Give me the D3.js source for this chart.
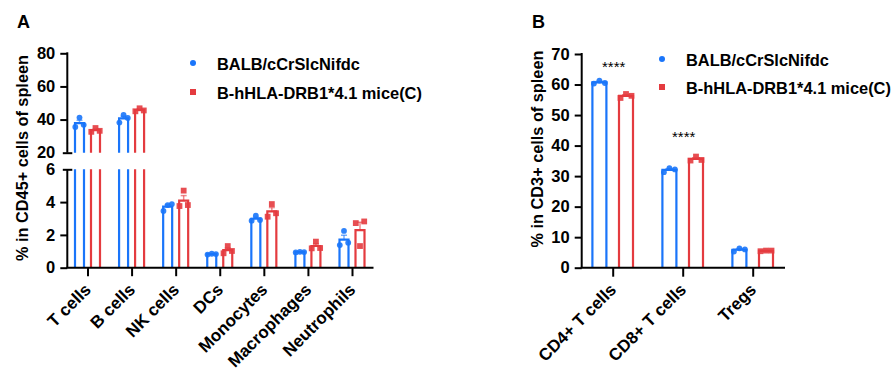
<!DOCTYPE html>
<html>
<head>
<meta charset="utf-8">
<script src="https://cdn.jsdelivr.net/npm/d3@7"></script>
<style>
  html, body { margin: 0; padding: 0; background: #fff; }
  svg { display: block; font-family: Arial, "Liberation Sans", sans-serif; }
</style>
</head>
<body>
<svg id="chart" width="896" height="377"></svg>
<script>
// ---------------- DATA ----------------
const seriesNames = ["BALB/cCrSlcNifdc", "B-hHLA-DRB1*4.1 mice(C)"];

// Panel A: % in CD45+ cells of spleen (3 mice per group)
const categoriesA = ["T cells", "B cells", "NK cells", "DCs", "Monocytes", "Macrophages", "Neutrophils"];
const balbA = [
  [41.2, 35.5, 36.8],
  [42.8, 38.2, 41.0],
  [3.82, 3.46, 3.88],
  [0.85, 0.80, 0.83],
  [3.17, 2.87, 2.91],
  [0.97, 0.93, 0.95],
  [2.24, 1.38, 1.52]
];
const hlaA = [
  [34.9, 32.6, 33.2],
  [46.8, 45.0, 45.5],
  [4.70, 3.76, 3.82],
  [1.32, 0.88, 1.02],
  [3.88, 3.11, 3.32],
  [1.59, 1.18, 1.20],
  [1.32, 2.72, 2.82]
];
const ticksTopA = [20, 40, 60, 80];
const ticksBottomA = [0, 2, 4, 6];

// Panel B: % in CD3+ cells of spleen
const categoriesB = ["CD4+ T cells", "CD8+ T cells", "Tregs"];
const balbB = [
  [61.3, 60.3, 60.5],
  [32.6, 31.3, 32.2],
  [6.35, 5.30, 6.00]
];
const hlaB = [
  [56.9, 55.6, 56.3],
  [36.4, 35.1, 35.3],
  [5.60, 5.40, 5.60]
];
const ticksB = [0, 10, 20, 30, 40, 50, 60, 70];
const significanceB = ["****", "****", ""];

// ---------------- STYLE ----------------
const BLUE = "#1a75fa";
const RED = "#e43b3f";
const FONT = 'Arial, "Liberation Sans", sans-serif';

const svg = d3.select("#chart");
const mean = a => d3.mean(a);
const sem = a => d3.deviation(a) / Math.sqrt(a.length);
const fmtInt = d3.format("d");

function drawPoints(g, x, ys, color, shape, offs) {
  ys.forEach((yv, i) => {
    const px = x + offs[i % offs.length];
    if (shape === "circle") {
      g.append("circle").attr("cx", px).attr("cy", yv).attr("r", 2.9)
        .attr("fill", color).attr("fill-opacity", 0.9);
    } else {
      g.append("rect").attr("x", px - 2.9).attr("y", yv - 2.9)
        .attr("width", 5.8).attr("height", 5.8)
        .attr("fill", color).attr("fill-opacity", 0.9);
    }
  });
}

function errorBar(g, x, yMean, ySem, color, cap) {
  g.append("line").attr("x1", x).attr("x2", x).attr("y1", yMean).attr("y2", ySem)
    .attr("stroke", color).attr("stroke-width", 1.5).attr("stroke-opacity", 0.6);
  g.append("line").attr("x1", x - cap).attr("x2", x + cap).attr("y1", ySem).attr("y2", ySem)
    .attr("stroke", color).attr("stroke-width", 1.5).attr("stroke-opacity", 0.6);
}

function legend(g, x, y, gap) {
  seriesNames.forEach((name, i) => {
    const cy = y + i * gap;
    if (i === 0) {
      g.append("circle").attr("cx", x).attr("cy", cy).attr("r", 3).attr("fill", BLUE);
    } else {
      g.append("rect").attr("x", x - 3).attr("y", cy - 3).attr("width", 6).attr("height", 6).attr("fill", RED);
    }
    g.append("text").attr("x", x + 24).attr("y", cy + 6.5)
      .attr("font-size", 16.4).attr("font-weight", "bold").attr("fill", "#000")
      .text(name);
  });
}

function styleAxis(g, size) {
  g.select(".domain").remove();
  g.selectAll(".tick line").attr("stroke", "#000").attr("stroke-width", 2);
  g.selectAll(".tick text").attr("font-size", size || 16).attr("font-weight", "bold")
    .attr("font-family", FONT).attr("fill", "#000");
}

// ================= PANEL A =================
{
  const g = svg.append("g");
  const axisX = 67.3, baseY = 267.7;
  const yBot = d3.scaleLinear().domain([0, 6]).range([baseY, 169.3]);
  const yTop = d3.scaleLinear().domain([20, 80]).range([152.7, 53.3]);
  const x = d3.scalePoint().domain(categoriesA).range([87.5, 352]);
  const off = 8, half = 4.5;

  [[balbA, BLUE, -off, "circle"], [hlaA, RED, off, "square"]].forEach(([data, color, dx, shape]) => {
    categoriesA.forEach((c, i) => {
      const cx = x(c) + dx;
      const vals = data[i];
      const m = mean(vals), s = sem(vals);
      if (m <= 6) {
        g.append("path")
          .attr("d", `M${cx - half},${yBot(0)}V${yBot(m)}H${cx + half}V${yBot(0)}`)
          .attr("fill", "none").attr("stroke", color).attr("stroke-width", 2.2);
        errorBar(g, cx, yBot(m), yBot(m + s), color, 3);
        drawPoints(g, cx, vals.map(v => yBot(v)), color, shape, [0, -4.2, 4.2]);
      } else {
        g.append("path")
          .attr("d", `M${cx - half},${yBot(0)}V${yBot(6)}M${cx + half},${yBot(0)}V${yBot(6)}`)
          .attr("fill", "none").attr("stroke", color).attr("stroke-width", 2.2);
        g.append("path")
          .attr("d", `M${cx - half},${yTop(20)}V${yTop(m)}H${cx + half}V${yTop(20)}`)
          .attr("fill", "none").attr("stroke", color).attr("stroke-width", 2.2);
        errorBar(g, cx, yTop(m), yTop(m + s), color, 3);
        drawPoints(g, cx, vals.map(v => yTop(v)), color, shape, [0, -4.2, 4.2]);
      }
    });
  });

  // y axes (broken)
  const gyT = g.append("g").attr("transform", `translate(${axisX},0)`)
    .call(d3.axisLeft(yTop).tickValues(ticksTopA).tickFormat(fmtInt).tickSize(7).tickPadding(5));
  const gyB = g.append("g").attr("transform", `translate(${axisX},0)`)
    .call(d3.axisLeft(yBot).tickValues(ticksBottomA).tickFormat(fmtInt).tickSize(7).tickPadding(5));
  styleAxis(gyT, 16.5); styleAxis(gyB, 16.5);
  gyT.selectAll(".tick").filter(d => d === 20).select("line").attr("x1", 5).attr("x2", -4.5);
  gyB.selectAll(".tick").filter(d => d === 6).select("line").attr("x1", 5).attr("x2", -4.5);
  g.append("line").attr("x1", axisX).attr("x2", axisX).attr("y1", yTop(80) - 1).attr("y2", yTop(20))
    .attr("stroke", "#000").attr("stroke-width", 2);
  g.append("line").attr("x1", axisX).attr("x2", axisX).attr("y1", yBot(6)).attr("y2", baseY)
    .attr("stroke", "#000").attr("stroke-width", 2);

  // x axis
  const gx = g.append("g").attr("transform", `translate(0,${baseY})`)
    .call(d3.axisBottom(x).tickSize(8.5).tickPadding(4));
  styleAxis(gx, 17);
  g.append("line").attr("x1", axisX - 1).attr("x2", 373.5).attr("y1", baseY).attr("y2", baseY)
    .attr("stroke", "#000").attr("stroke-width", 2);
  gx.selectAll(".tick text")
    .attr("text-anchor", "end").attr("dy", null).attr("y", null)
    .attr("transform", "translate(4,23) rotate(-45)");

  g.append("text").attr("transform", "translate(28,158) rotate(-90)")
    .attr("text-anchor", "middle").attr("font-size", 16.3).attr("font-weight", "bold")
    .text("% in CD45+ cells of spleen");

  g.append("text").attr("x", 17).attr("y", 28).attr("font-size", 18).attr("font-weight", "bold").text("A");

  legend(g, 193, 63, 29);
}

// ================= PANEL B =================
{
  const g = svg.append("g");
  const axisX = 581.7, baseY = 267.7;
  const y = d3.scaleLinear().domain([0, 70]).range([baseY, 54]);
  const x = d3.scalePoint().domain(categoriesB).range([612.7, 752.7]);
  const off = 13.3, half = 7;

  [[balbB, BLUE, -off, "circle"], [hlaB, RED, off, "square"]].forEach(([data, color, dx, shape]) => {
    categoriesB.forEach((c, i) => {
      const cx = x(c) + dx;
      const vals = data[i];
      const m = mean(vals), s = sem(vals);
      g.append("path")
        .attr("d", `M${cx - half},${y(0)}V${y(m)}H${cx + half}V${y(0)}`)
        .attr("fill", "none").attr("stroke", color).attr("stroke-width", 2.2);
      errorBar(g, cx, y(m), y(m + s), color, 4);
      drawPoints(g, cx, vals.map(v => y(v)), color, shape, [0, -5.5, 5.5]);
    });
  });

  categoriesB.forEach((c, i) => {
    if (!significanceB[i]) return;
    const top = Math.max(mean(balbB[i]), mean(hlaB[i]));
    g.append("text").attr("x", x(c) + 1).attr("y", y(top) + (i === 0 ? -10 : -17))
      .attr("text-anchor", "middle").attr("font-size", 15).attr("fill", "#000")
      .text(significanceB[i]);
  });

  const gy = g.append("g").attr("transform", `translate(${axisX},0)`)
    .call(d3.axisLeft(y).tickValues(ticksB).tickFormat(fmtInt).tickSize(7).tickPadding(5));
  styleAxis(gy, 16.5);
  g.append("line").attr("x1", axisX).attr("x2", axisX).attr("y1", y(70) - 1).attr("y2", baseY)
    .attr("stroke", "#000").attr("stroke-width", 2);

  const gx = g.append("g").attr("transform", `translate(0,${baseY})`)
    .call(d3.axisBottom(x).tickSize(9).tickPadding(4));
  styleAxis(gx, 17);
  g.append("line").attr("x1", axisX - 1).attr("x2", 785).attr("y1", baseY).attr("y2", baseY)
    .attr("stroke", "#000").attr("stroke-width", 2);
  gx.selectAll(".tick text")
    .attr("text-anchor", "end").attr("dy", null).attr("y", null)
    .attr("transform", "translate(4,23) rotate(-45)");

  g.append("text").attr("transform", "translate(543,149) rotate(-90)")
    .attr("text-anchor", "middle").attr("font-size", 16.3).attr("font-weight", "bold")
    .text("% in CD3+ cells of spleen");

  g.append("text").attr("x", 532).attr("y", 28).attr("font-size", 18).attr("font-weight", "bold").text("B");

  legend(g, 662, 59, 28);
}
</script>
</body>
</html>
